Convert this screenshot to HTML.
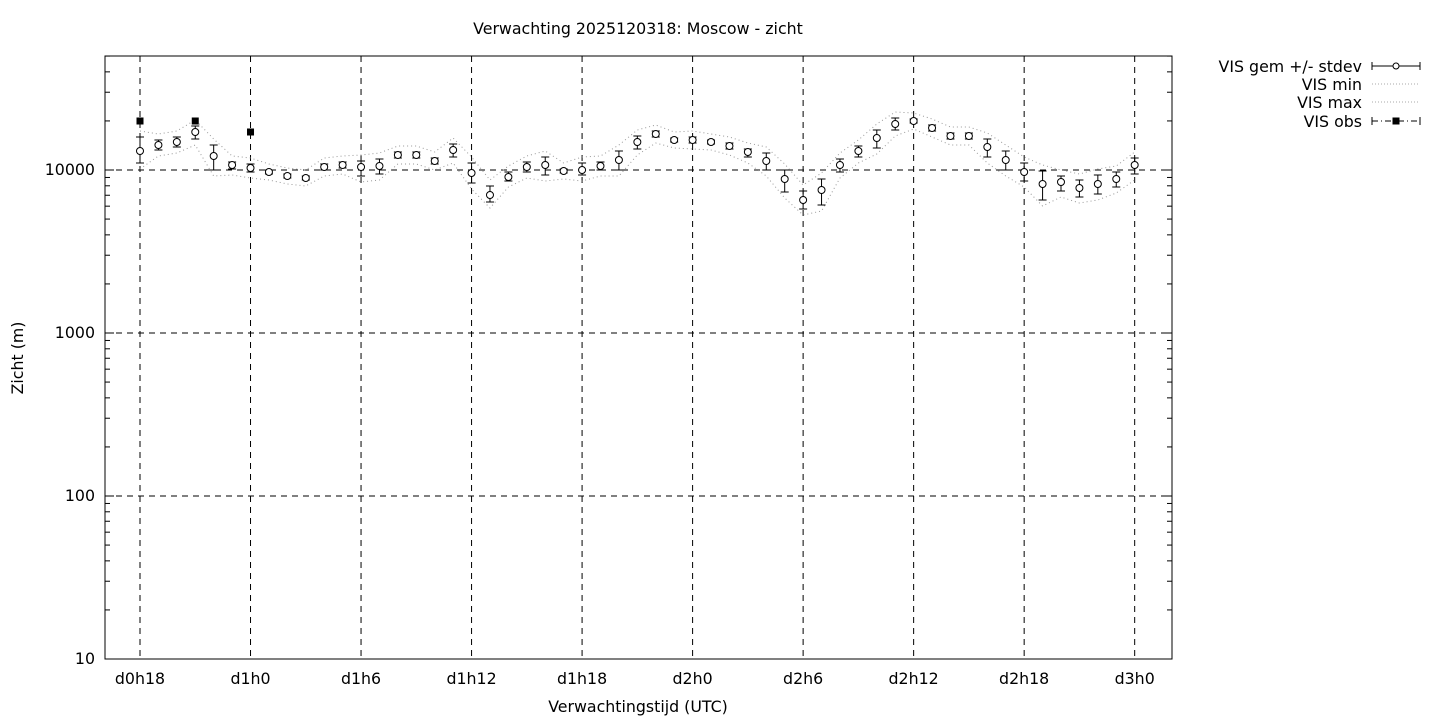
<!DOCTYPE html>
<html><head><meta charset="utf-8"><style>
html,body{margin:0;padding:0;background:#fff;}
svg{display:block;font-family:"DejaVu Sans","Liberation Sans",sans-serif;}
</style></head><body>
<svg id="s" width="1440" height="720" xmlns="http://www.w3.org/2000/svg">
<text x="638" y="34" font-size="15.8" text-anchor="middle">Verwachting 2025120318: Moscow - zicht</text>
<text x="638" y="712" font-size="15.8" text-anchor="middle">Verwachtingstijd (UTC)</text>
<text x="23" y="358" font-size="15.8" text-anchor="middle" transform="rotate(-90 23 358)">Zicht (m)</text>
<g font-size="15.8" text-anchor="end">
<text x="1362" y="72">VIS gem +/- stdev</text>
<text x="1362" y="90">VIS min</text>
<text x="1362" y="108">VIS max</text>
<text x="1362" y="127">VIS obs</text>
</g>
<g stroke="#000" stroke-width="1">
<line x1="1372" y1="66" x2="1420" y2="66"/><line x1="1372" y1="62" x2="1372" y2="70"/><line x1="1420" y1="62" x2="1420" y2="70"/>
<circle cx="1396" cy="66" r="3" fill="#fff"/>
<line x1="1372" y1="84" x2="1420" y2="84" stroke="#aaa" stroke-dasharray="1,2"/>
<line x1="1372" y1="102" x2="1420" y2="102" stroke="#aaa" stroke-dasharray="1,2"/>
<line x1="1372" y1="121" x2="1420" y2="121" stroke-dasharray="6,3,1,3"/><line x1="1372" y1="117" x2="1372" y2="125"/><line x1="1420" y1="117" x2="1420" y2="125"/>
<rect x="1393" y="118" width="6" height="6" fill="#000"/>
</g>
<g id="g"></g>
<rect x="105" y="56" width="1067" height="603" fill="none" stroke="#000" stroke-width="1"/>
</svg>
<script>
const g=document.getElementById('g');let h='';
const X=i=>140+i*18.42;
const dec=[[659,'10'],[496,'100'],[333,'1000'],[170,'10000']];
for(const [y,l] of dec){
 if(y<659&&y>56)h+=`<line x1="105" y1="${y}" x2="1172" y2="${y}" stroke="#000" stroke-dasharray="6,5"/>`;
 h+=`<text x="95" y="${y+5}" font-size="15.8" text-anchor="end">${l}</text>`;
 h+=`<line x1="105" y1="${y}" x2="114" y2="${y}" stroke="#000"/><line x1="1163" y1="${y}" x2="1172" y2="${y}" stroke="#000"/>`;
 for(let k=2;k<10;k++){const yy=y-163*Math.log10(k);if(yy<56)break;
  h+=`<line x1="105" y1="${yy}" x2="110" y2="${yy}" stroke="#000"/><line x1="1167" y1="${yy}" x2="1172" y2="${yy}" stroke="#000"/>`;}
}
const xl=['d0h18','d1h0','d1h6','d1h12','d1h18','d2h0','d2h6','d2h12','d2h18','d3h0'];
xl.forEach((l,j)=>{const x=X(j*6);
 h+=`<line x1="${x}" y1="56" x2="${x}" y2="659" stroke="#000" stroke-dasharray="6,5"/>`;
 h+=`<text x="${x}" y="684" font-size="15.8" text-anchor="middle">${l}</text>`;});
const d=[[151,137,163],[145,140,150],[142,137,147],[132,126,139],[156,145,170],[165,162,169],[168,164,172],[172,170,174],[176,174,178],[178,176,180],[167,164,170],[165,162,168],[167,161,176],[166,159,174],[155,152,158],[155,152,158],[161,158,164],[150,144,157],[173,163,183],[195,186,202],[177,172,181],[167,162,172],[165,157,175],[171,169,173],[170,163,175],[166,162,170],[160,151,170],[142,136,149],[134,131,137],[140,138,142],[140,137,143],[142,140,144],[146,143,149],[152,149,157],[161,153,170],[179,170,192],[200,191,209],[190,179,205],[165,159,172],[151,146,157],[138,130,148],[124,118,130],[121,119,123],[128,125,131],[136,133,139],[136,133,139],[147,139,157],[160,151,170],[172,163,181],[184,171,200],[182,176,191],[188,180,197],[184,175,194],[179,172,187],[165,158,174]];
let mn='',mx='';
d.forEach((p,i)=>{const x=X(i);mn+=`${x},${p[2]+6} `;mx+=`${x},${p[1]-6} `;});
h+=`<polyline points="${mn}" fill="none" stroke="#999" stroke-dasharray="1,3"/>`;
h+=`<polyline points="${mx}" fill="none" stroke="#999" stroke-dasharray="1,3"/>`;
d.forEach((p,i)=>{const x=X(i);
 h+=`<line x1="${x}" y1="${p[1]}" x2="${x}" y2="${p[2]}" stroke="#000"/><line x1="${x-4}" y1="${p[1]}" x2="${x+4}" y2="${p[1]}" stroke="#000"/><line x1="${x-4}" y1="${p[2]}" x2="${x+4}" y2="${p[2]}" stroke="#000"/>`;
 h+=`<circle cx="${x}" cy="${p[0]}" r="3.5" fill="#fff" stroke="#000"/>`;});
[[0,121],[3,121],[6,132]].forEach(([i,y])=>{const x=X(i);h+=`<rect x="${x-3.5}" y="${y-3.5}" width="7" height="7" fill="#000"/>`;});
g.innerHTML=h;
</script>
</body></html>
